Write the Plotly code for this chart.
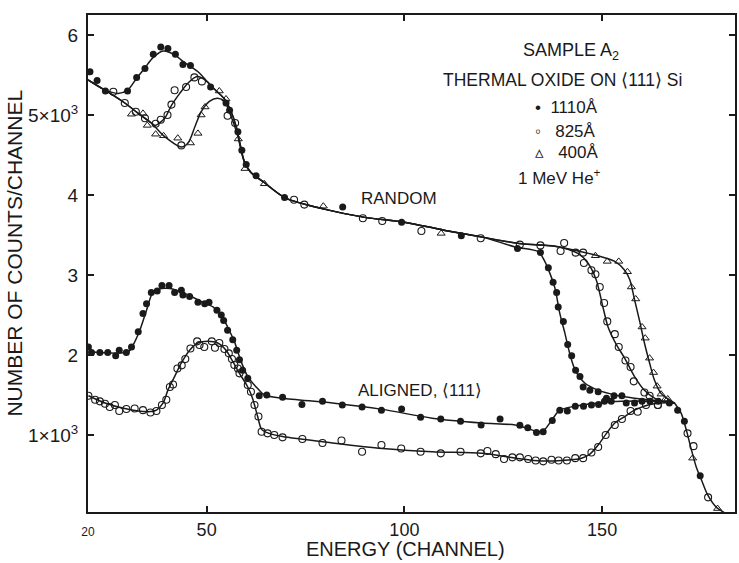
import plotly.graph_objects as go

# ---------------- data (channel, counts) ----------------
# RANDOM spectra - measured points
rand1110_x = [20.5, 22.3, 24.4, 30.0, 32.3, 34.4, 36.5, 38.4, 40.2, 42.1, 44.0, 45.9, 51.0, 54.9, 55.8,
              57.9, 58.9, 60.0, 62.5, 69.7, 84.4, 99.3, 114.4, 128.6, 134.4, 136.4, 137.6, 138.5, 138.9,
              140.2, 141.3, 142.3, 143.3, 144.4, 145.2, 146.9, 149.0, 151.1, 153.0, 155.0]
rand1110_y = [5540, 5430, 5300, 5300, 5470, 5580, 5760, 5850, 5830, 5760, 5630, 5620, 5350, 5150, 5060,
              4790, 4560, 4380, 4240, 3970, 3850, 3660, 3490, 3330, 3280, 3090, 2910, 2780, 2600,
              2420, 2130, 1990, 1810, 1730, 1600, 1560, 1540, 1460, 1490, 1490]

rand825_x = [26.4, 29.3, 32.1, 34.4, 37.1, 38.4, 40.1, 41.1, 41.9, 43.6, 44.8, 46.9, 48.8, 55.3, 57.2,
             72.1, 74.7, 89.5, 94.4, 104.3, 119.3, 129.2, 134.4, 139.5, 140.4, 143.3, 145.2, 145.4,
             147.3, 148.3, 149.4, 150.5, 151.3, 153.2, 154.2, 155.9, 157.2, 158.0, 160.7, 162.0, 164.1,
             171.6, 173.1, 176.8]
rand825_y = [5290, 5150, 5040, 4960, 4890, 4940, 5000, 5130, 5310, 4620, 5350, 5470, 5420, 4990, 4900,
             3940, 3880, 3710, 3675, 3550, 3460, 3380, 3370, 3300, 3400, 3280, 3280, 3150,
             3060, 3010, 2850, 2650, 2420, 2260, 2100, 1930, 1850, 1670, 1530, 1490, 1375,
             1020, 860, 220]

rand400_x = [31.0, 33.9, 35.0, 37.1, 39.1, 42.7, 45.9, 47.8, 48.6, 49.6, 53.2, 54.9, 58.0, 59.7, 64.6,
             79.5, 109.3, 148.3, 151.3, 154.2, 156.4, 157.4, 158.5, 160.1, 160.9, 162.0, 163.0, 163.9,
             164.9, 165.9, 166.6, 172.9, 179.2]
rand400_y = [5010, 5020, 4870, 4760, 4740, 4710, 4650, 4770, 5000, 5100, 5300, 5200, 4700, 4330, 4140,
             3860, 3520, 3240, 3170, 3170, 3040, 2850, 2700, 2350, 2210, 1960, 1780, 1610,
             1510, 1440, 1450, 710, 80]

# ALIGNED <111> spectra - measured points
al1110_x = [20.1, 20.9, 23.0, 25.0, 27.0, 27.9, 29.7, 31.0, 32.7, 33.9, 34.8, 36.0, 37.5, 38.7, 40.5,
            41.9, 43.6, 44.0, 45.7, 47.8, 49.5, 50.6, 52.6, 53.7, 54.3, 55.3, 56.6, 57.6, 58.3, 59.1,
            60.4, 63.3, 65.2, 69.2, 74.1, 79.3, 84.3, 89.3, 94.2, 99.3, 104.1, 109.2, 114.2, 119.4,
            124.2, 129.2, 131.2, 133.4, 135.1, 137.4, 139.3, 141.2, 143.2, 145.3, 147.3, 149.1, 150.6,
            152.3, 156.1, 158.2, 160.1, 162.1, 164.2, 167.0, 169.1, 170.8, 174.8]
al1110_y = [2100, 2030, 2030, 2030, 1990, 2060, 2030, 2100, 2290, 2520, 2640, 2780, 2800, 2870, 2870,
            2780, 2810, 2750, 2730, 2660, 2640, 2660, 2560, 2500, 2430, 2310, 2190, 2060, 1940, 1810,
            1710, 1490, 1500, 1470, 1380, 1420, 1375, 1350, 1310, 1325, 1220, 1200, 1170, 1125,
            1200, 1120, 1090, 1030, 1040, 1180, 1310, 1300, 1360, 1360, 1375, 1380, 1420,
            1420, 1400, 1400, 1420, 1420, 1420, 1400, 1310, 1170, 490]

al825_x = [20.1, 21.8, 23.0, 24.3, 25.5, 26.8, 27.9, 29.7, 31.8, 33.9, 35.8, 37.3, 38.7, 39.8, 40.7,
           41.5, 42.6, 43.7, 44.6, 45.9, 47.6, 48.2, 49.4, 51.3, 52.1, 53.2, 54.5, 55.6, 56.4, 57.0,
           57.9, 58.3, 60.4, 61.2, 62.1, 63.1, 63.9, 65.4, 67.1, 69.2, 74.2, 79.3, 84.1, 89.3, 94.2,
           99.2, 104.1, 109.2, 114.2, 119.3, 121.0, 123.1, 125.2, 127.3, 129.2, 131.3, 133.2, 135.1,
           137.2, 139.0, 141.1, 143.2, 145.2, 147.3, 149.0, 150.9, 153.2, 155.0, 157.2, 159.0, 161.1,
           164.1]
al825_y = [1490, 1440, 1420, 1390, 1350, 1375, 1300, 1325, 1330, 1310, 1280, 1300, 1375, 1440, 1600,
           1630, 1830, 1870, 1950, 2080, 2170, 2125, 2100, 2170, 2090, 2150, 2075, 2020, 1950, 1875,
           1830, 1770, 1625, 1540, 1375, 1230, 1040, 1020, 1000, 970, 950, 900, 930, 790, 875,
           830, 790, 770, 790, 770, 800, 760, 700, 720, 720, 700, 680, 670,
           690, 680, 680, 710, 710, 780, 850, 1000, 1125, 1200, 1300, 1290, 1375,
           1375]

# Hand-drawn smooth curves through the data
c_r1110_x = [20, 24, 27.6, 30, 32.3, 34.4, 36.5, 39, 42, 44, 47.8, 51.2, 54.5, 56.2, 57.5, 58.7, 59.5,
             61.2, 64.2, 70, 80, 90, 100, 110, 120, 128, 133.9, 135.5, 136.8, 138.1, 139.3, 140.6,
             141.8, 143.2, 145.6, 149, 153.2, 158.2, 165.8, 168.3]
c_r1110_y = [5440, 5320, 5270, 5310, 5460, 5590, 5720, 5800, 5750, 5670, 5540, 5360, 5200, 5040, 4850,
             4580, 4420, 4280, 4170, 3960, 3820, 3720, 3660, 3560, 3470, 3350, 3290, 3170, 3020, 2830,
             2520, 2270, 2020, 1810, 1650, 1560, 1500, 1460, 1420, 1400]

c_r825_x = [20, 24.3, 29.3, 32.7, 36, 37, 39.4, 41.1, 43.2, 45.3, 47.6, 50.3, 51.2, 54.5, 56.2, 57.5,
            58.7, 59.5, 61.2, 64.2, 70, 80, 90, 100, 110, 120, 129.6, 138.1, 143.9, 146.4, 148.5,
            150.2, 151.5, 153.6, 155.7, 158.2, 160.7, 164.1, 168.3]
c_r825_y = [5440, 5310, 5150, 5020, 4900, 4870, 4960, 5120, 5270, 5400, 5480, 5410, 5360, 5200, 5040,
            4850, 4580, 4420, 4280, 4170, 3960, 3820, 3720, 3660, 3560, 3470, 3390, 3360, 3270, 3150,
            2940, 2600, 2350, 2130, 1960, 1730, 1560, 1440, 1400]

c_r400_x = [20, 24.3, 29.3, 32.7, 36, 39.4, 43.6, 45.3, 47, 48.6, 50.7, 52.8, 54.5, 56.2, 57.9, 59.1,
            60.2, 61.2, 64.2, 70, 80, 90, 100, 110, 120, 129.6, 138.1, 143.9, 149, 153.2, 155.7, 157,
            158.2, 159.5, 160.7, 162, 163.2, 164.9, 167, 168.3]
c_r400_y = [5440, 5310, 5150, 5020, 4900, 4730, 4600, 4650, 4850, 5040, 5170, 5210, 5170, 4980, 4730,
            4480, 4350, 4280, 4170, 3960, 3820, 3720, 3660, 3560, 3470, 3390, 3360, 3300, 3240, 3170,
            3060, 2940, 2690, 2420, 2150, 1900, 1690, 1520, 1440, 1400]

c_a1110_x = [20.1, 30.2, 31.4, 33.1, 34.8, 36.5, 38.6, 40.7, 44.4, 48.6, 51.6, 53.7, 55.3, 57.0, 58.7,
             60.4, 62.9, 64.6, 69.2, 81.8, 94.4, 107, 119.6, 128, 131.3, 133.9, 135.5, 137.6, 139.3,
             143.1, 149, 154.9, 163.2, 168.3]
c_a1110_y = [2040, 2040, 2125, 2310, 2560, 2790, 2830, 2830, 2770, 2670, 2600, 2500, 2350, 2170, 1920,
             1730, 1580, 1500, 1460, 1400, 1320, 1210, 1150, 1125, 1080, 1040, 1070, 1210, 1310,
             1360, 1400, 1420, 1420, 1400]

c_a825_x = [20.1, 24.3, 29.3, 35.2, 37.3, 39.0, 40.2, 41.9, 43.6, 45.7, 47.8, 50.3, 52.8, 54.9, 56.6,
            58.3, 60.4, 61.6, 62.9, 63.9, 65.8, 69.2, 81.8, 94.4, 107, 119.6, 125.5, 129.6, 134.7,
            139.7, 144.8, 146.9, 149, 151.1, 153.2, 155.7, 158.2, 161.6, 165, 168.3]
c_a825_y = [1490, 1400, 1330, 1290, 1310, 1400, 1560, 1730, 1900, 2060, 2150, 2170, 2150, 2060, 1920,
            1770, 1600, 1460, 1230, 1070, 1020, 980, 900, 830, 790, 770, 730, 700, 675,
            680, 710, 760, 875, 1020, 1150, 1230, 1310, 1375, 1400, 1400]

# common high-energy edge
c_tail_x = [168.3, 170.0, 171.3, 172.6, 173.8, 175.1, 176.7, 178.8, 180.9]
c_tail_y = [1400, 1270, 1060, 810, 600, 440, 250, 100, 30]

x_ticks = [20, 50, 100, 150]
x_ticktext = ["<span style='font-size:12px'>20</span>", "50", "100", "150"]
y_ticks = [1000, 2000, 3000, 4000, 5000, 6000]
y_ticktext = ["1×10<sup>3</sup>", "2", "3", "4", "5×10<sup>3</sup>", "6"]

# ---------------- figure ----------------
INK = "#1a1a1a"
FONT = "Liberation Sans"
fig = go.Figure()

curve_style = dict(mode="lines", line=dict(color=INK, width=1.5, shape="spline", smoothing=0.8),
                   hoverinfo="skip", showlegend=False)
for cx, cy in [(c_r1110_x, c_r1110_y), (c_r825_x, c_r825_y), (c_r400_x, c_r400_y),
               (c_a1110_x, c_a1110_y), (c_a825_x, c_a825_y), (c_tail_x, c_tail_y)]:
    fig.add_trace(go.Scatter(x=cx, y=cy, **curve_style))

filled = dict(symbol="circle", size=7, color=INK)
opencirc = dict(symbol="circle-open", size=7, color=INK, line=dict(width=1.1, color=INK))
tri = dict(symbol="triangle-up-open", size=7, color=INK, line=dict(width=1.0, color=INK))

fig.add_trace(go.Scatter(x=rand1110_x, y=rand1110_y, mode="markers", marker=filled, name="1110 Å random", showlegend=False))
fig.add_trace(go.Scatter(x=rand825_x, y=rand825_y, mode="markers", marker=opencirc, name="825 Å random", showlegend=False))
fig.add_trace(go.Scatter(x=rand400_x, y=rand400_y, mode="markers", marker=tri, name="400 Å random", showlegend=False))
fig.add_trace(go.Scatter(x=al1110_x, y=al1110_y, mode="markers", marker=filled, name="1110 Å aligned", showlegend=False))
fig.add_trace(go.Scatter(x=al825_x, y=al825_y, mode="markers", marker=opencirc, name="825 Å aligned", showlegend=False))

ann_font = dict(family=FONT, size=17, color=INK)
annotations = [
    dict(x=142.2, y=5800, text="SAMPLE A<sub>2</sub>", showarrow=False, font=dict(family=FONT, size=18, color=INK)),
    dict(x=139.9, y=5440, text="THERMAL OXIDE ON ⟨111⟩ Si", showarrow=False, font=dict(family=FONT, size=17.5, color=INK)),
    dict(x=132.6, y=5090, text="•  1110Å", showarrow=False, xanchor="left", font=ann_font),
    dict(x=132.6, y=4790, text="◦   825Å", showarrow=False, xanchor="left", font=ann_font),
    dict(x=132.6, y=4525, text="▵   400Å", showarrow=False, xanchor="left", font=ann_font),
    dict(x=139.1, y=4225, text="1 MeV He<sup>+</sup>", showarrow=False, font=ann_font),
    dict(x=98.6, y=3950, text="RANDOM", showarrow=False, font=ann_font),
    dict(x=103.9, y=1560, text="ALIGNED, ⟨111⟩", showarrow=False, font=ann_font),
    dict(x=0, xref="paper", y=0.52, yref="paper", xanchor="center", yanchor="middle",
         xshift=-73, text="NUMBER OF COUNTS/CHANNEL", textangle=-90, showarrow=False,
         font=dict(family=FONT, size=21, color=INK)),
    dict(x=0.49, xref="paper", y=0, yref="paper", yanchor="middle", yshift=-37,
         text="ENERGY (CHANNEL)", showarrow=False, font=dict(family=FONT, size=20, color=INK)),
]

fig.update_layout(
    width=739, height=563,
    margin=dict(l=88, r=2, t=15, b=51),
    paper_bgcolor="white", plot_bgcolor="white",
    font=dict(family=FONT, color=INK),
    annotations=annotations,
    showlegend=False,
)
fig.update_xaxes(range=[20, 183.6], tickvals=x_ticks, ticktext=x_ticktext,
                 showline=True, linewidth=2, linecolor=INK, mirror="ticks",
                 ticks="inside", ticklen=6, tickwidth=1.5, tickcolor=INK,
                 showgrid=False, zeroline=False, tickfont=dict(family=FONT, size=18, color=INK))
fig.update_yaxes(range=[37, 6250], tickvals=y_ticks, ticktext=y_ticktext,
                 showline=True, linewidth=2, linecolor=INK, mirror="ticks",
                 ticks="inside", ticklen=6, tickwidth=1.5, tickcolor=INK,
                 showgrid=False, zeroline=False, ticklabelstandoff=4,
                 tickfont=dict(family=FONT, size=19, color=INK))

fig.write_html("out.html")
